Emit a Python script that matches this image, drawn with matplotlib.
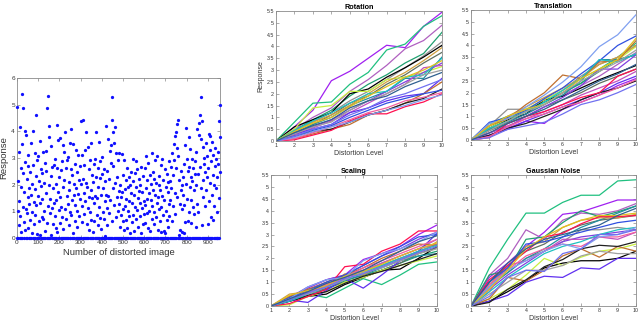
import numpy as np
import matplotlib
matplotlib.use("Agg")
import matplotlib.pyplot as plt
from matplotlib.ticker import FormatStrFormatter

plt.rcParams['font.family'] = ['Liberation Sans', 'DejaVu Sans']

# response of each distorted image (image index step 1.5)
response = [
    0, 4.92, 1.03, 0, 2.14, 0.47, 3.21, 1.38, 0, 4.18, 0.82, 2.63, 1.91, 0, 0.22, 5.41, 3.52, 0, 1.17, 2.44,
    4.88, 0.61, 0, 1.74, 2.86, 0.31, 4.02, 0, 1.09, 3.87, 2.23, 0.94, 0, 1.52, 3.13, 0.36, 2.71, 0, 1.88, 1.27,
    0.68, 0, 2.47, 3.58, 1.63, 0, 0.18, 2.03, 0.97, 4.01, 0, 2.74, 1.36, 0.53, 0, 3.17, 1.82, 0.86, 0, 2.31,
    4.61, 1.24, 0, 0.14, 2.92, 1.57, 0, 3.08, 0.63, 2.12, 0, 1.33, 3.62, 0.11, 0, 2.58, 1.94, 0.77, 0, 2.42,
    1.46, 0, 3.24, 0.72, 2.07, 0, 1.02, 2.81, 0.28, 0, 3.27, 1.69, 2.53, 0, 4.87, 0.58, 1.21, 0, 5.31, 3.79,
    1.98, 0, 4.21, 0.93, 1.48, 0, 0.12, 3.46, 2.33, 0, 1.13, 2.67, 0.52, 0, 1.87, 2.74, 0, 1.31, 2.98, 0.83,
    0, 2.02, 1.43, 0.39, 0, 2.61, 4.23, 0.21, 1.72, 0, 3.68, 1.04, 2.28, 0, 0.57, 3.76, 1.52, 0, 2.54, 1.18,
    0, 2.87, 0.79, 3.49, 0, 1.93, 0.33, 2.19, 0, 3.22, 1.08, 0, 3.98, 2.62, 0.71, 0, 1.58, 2.91, 0, 1.29,
    3.02, 0, 0.48, 2.11, 1.79, 0, 3.57, 0.98, 0, 2.59, 4.08, 0.88, 0, 1.42, 2.37, 0.19, 0, 3.51, 1.61, 2.04,
    0, 0.62, 2.78, 1.22, 0, 3.29, 1.89, 0.42, 0, 2.49, 1.01, 3.11, 0, 1.64, 2.18, 0, 0.81, 2.69, 1.47, 0,
    4.38, 2.01, 0, 1.19, 3.13, 0.59, 0, 2.21, 4.41, 1.68, 0, 0.91, 2.72, 0, 3.31, 1.39, 3.97, 0, 2.06, 0.51,
    1.92, 0, 3.42, 1.12, 0, 2.57, 0.29, 1.53, 0, 2.93, 0.99, 3.58, 0, 1.81, 0.69, 2.38, 0, 1.49, 0.24, 2.09,
    0, 1.32, 2.79, 0.63, 0, 2.98, 1.58, 2.27, 0, 3.99, 0.87, 1.51, 0, 2.62, 1.93, 0, 0.49, 3.61, 1.18, 0,
    2.24, 2.88, 0.76, 0, 1.63, 0.32, 2.41, 0, 3.03, 0.97, 1.87, 0, 2.58, 0.71, 0, 1.37, 2.13, 0.09, 0, 1.62,
    4.19, 0, 1.14, 2.52, 0.48, 0, 3.71, 1.57, 2.23, 0, 0.92, 3.28, 0, 1.41, 2.83, 3.47, 0, 0.64, 5.29, 4.42,
    0, 1.88, 3.98, 2.69, 0, 3.57, 1.23, 0, 4.17, 2.08, 0.79, 0, 3.19, 1.52, 0, 2.27, 1.03, 0, 2.91, 1.76,
    0, 1.28, 3.18, 0.41, 0, 1.97, 1.54, 0, 0.88, 3.16, 1.71, 0, 2.37, 0.62, 1.09, 0, 2.94, 0.31, 1.83, 0,
    1.21, 2.18, 0.68, 0, 1.48, 2.63, 0, 0.38, 1.91, 1.02, 0, 2.29, 0.82, 1.37, 0, 1.98, 0.19, 0, 1.68, 2.48,
    0.61, 0, 1.33, 2.12, 0, 2.96, 0.87, 1.62, 0, 0.28, 2.43, 1.18, 0, 2.87, 0.72, 1.93, 0, 1.04, 2.57, 0,
    0.42, 1.49, 2.21, 0, 1.78, 0.83, 0, 1.99, 1.31, 0.17, 0, 2.68, 1.12, 0, 1.73, 0.52, 2.32, 0, 1.38, 0.91,
    0, 2.61, 1.22, 0.58, 0, 3.09, 1.88, 0, 0.93, 2.19, 1.47, 0, 2.82, 0.39, 1.69, 0, 1.01, 2.38, 0, 0.27,
    1.42, 2.03, 0, 3.17, 0.71, 1.19, 0, 2.47, 1.79, 0, 0.53, 2.23, 0.98, 0, 2.91, 1.61, 0, 0.78, 2.08, 1.33,
    0, 3.08, 1.52, 0.31, 0, 2.32, 1.09, 1.98, 0, 0.62, 1.81, 0, 2.72, 1.17, 0.21, 0, 2.98, 1.59, 0, 0.88,
    2.19, 0.27, 0, 1.43, 2.58, 0, 0.18, 1.92, 1.03, 0, 2.41, 0.69, 0, 1.72, 2.09, 0.41, 0, 2.87, 1.28, 0.81,
    0, 2.12, 1.41, 0, 2.68, 1.88, 0.62, 0, 3.19, 2.38, 0, 1.21, 2.92, 3.52, 0, 1.68, 3.81, 0.89, 0, 3.99,
    2.61, 0, 4.27, 3.38, 1.52, 0, 4.42, 3.09, 0, 0.11, 2.19, 1.28, 0, 0.29, 2.52, 1.79, 0, 0.21, 1.99, 1.09,
    0, 1.61, 2.28, 0, 0.18, 2.79, 1.22, 0, 3.48, 0.59, 2.02, 0, 4.11, 1.48, 2.98, 0, 2.53, 0.63, 0, 3.79,
    0.98, 2.68, 0, 3.32, 1.91, 0, 2.27, 0.57, 1.41, 0, 2.97, 2.12, 0, 1.18, 2.62, 0, 1.79, 0.91, 2.39, 0,
    2.88, 0.42, 0, 1.97, 3.21, 1.29, 0, 4.09, 2.41, 0, 0.98, 3.88, 4.31, 0, 2.68, 4.62, 0, 5.29, 3.71, 1.88,
    0, 0.48, 4.39, 2.19, 0, 3.41, 1.52, 0, 2.78, 2.99, 0, 1.19, 2.49, 3.58, 0, 1.81, 2.28, 0, 3.09, 0.52,
    0, 2.61, 3.91, 1.38, 0, 3.29, 2.08, 0, 3.81, 0.79, 2.88, 0, 1.61, 3.59, 0, 2.38, 0.68, 3.11, 0, 1.98,
    1.21, 0, 3.38, 2.69, 0, 1.88, 2.98, 0, 2.29, 0.97, 0, 2.79, 3.21, 0, 1.51, 4.38, 0, 4.98, 2.48, 3.79,
]

levels = [1, 2, 3, 4, 5, 6, 7, 8, 9, 10]

line_colors = ['#a020f0', '#20c080', '#b060c0', '#20a070', '#909090', '#000000', '#607060',
               '#c8f040', '#2090a0', '#d0a040', '#8040e0', '#c050c0', '#6030f0', '#c07030',
               '#202020', '#ff1050', '#f060a0', '#3050e0', '#20c0c0', '#80a0f0', '#e0c020',
               '#a0a0a0', '#7070f0', '#306090']

rotation = [
    [0, 0.60, 1.30, 2.55, 2.95, 3.50, 4.05, 3.95, 4.85, 5.45],
    [0, 0.80, 1.60, 1.65, 2.40, 2.90, 3.85, 4.10, 4.85, 5.30],
    [0, 0.50, 1.00, 1.40, 2.10, 2.60, 3.20, 3.90, 4.25, 4.90],
    [0, 0.45, 0.90, 1.30, 1.90, 2.40, 2.80, 3.30, 3.70, 4.60],
    [0, 0.40, 0.80, 1.20, 1.70, 2.10, 2.60, 3.10, 3.60, 4.20],
    [0, 0.60, 0.90, 1.20, 2.00, 2.20, 2.70, 3.10, 3.55, 4.05],
    [0, 0.35, 0.70, 1.10, 1.60, 1.90, 2.40, 2.80, 3.30, 3.75],
    [0, 0.50, 1.40, 1.50, 2.10, 2.10, 2.60, 2.70, 2.90, 3.15],
    [0, 0.30, 0.70, 1.00, 1.50, 1.80, 2.10, 2.65, 2.65, 3.55],
    [0, 0.40, 0.80, 1.10, 1.50, 2.00, 2.50, 2.90, 3.40, 3.95],
    [0, 0.30, 0.60, 0.90, 1.30, 1.70, 2.10, 2.50, 2.90, 3.30],
    [0, 0.25, 0.55, 0.85, 1.20, 1.60, 2.00, 2.40, 3.10, 3.20],
    [0, 0.30, 0.50, 0.70, 1.20, 1.40, 1.70, 1.90, 2.00, 2.65],
    [0, 0.10, 0.30, 0.50, 0.70, 1.10, 1.30, 1.60, 2.00, 2.50],
    [0, 0.20, 0.40, 0.50, 0.80, 1.10, 1.30, 1.60, 1.80, 2.20],
    [0, 0.05, 0.25, 0.45, 0.85, 1.15, 1.15, 1.45, 1.65, 2.00],
    [0, 0.10, 0.35, 0.60, 0.90, 1.20, 1.40, 1.70, 1.85, 2.05],
    [0, 0.20, 0.45, 0.65, 1.00, 1.30, 1.60, 1.80, 2.00, 2.15],
    [0, 0.45, 0.85, 1.20, 1.60, 2.00, 2.10, 2.70, 2.80, 3.50],
    [0, 0.15, 0.40, 0.60, 0.80, 1.10, 1.30, 1.50, 1.75, 1.95],
    [0, 0.40, 0.75, 1.00, 1.45, 1.90, 2.30, 2.70, 3.00, 3.40],
    [0, 0.30, 0.60, 0.80, 1.30, 1.70, 2.00, 2.40, 2.80, 3.00],
    [0, 0.20, 0.50, 0.70, 1.10, 1.40, 1.80, 2.00, 2.30, 2.60],
    [0, 0.35, 0.65, 0.90, 1.40, 1.70, 1.90, 2.30, 2.60, 2.90],
]

translation = [
    [0, 0.20, 0.50, 0.80, 0.70, 1.30, 1.60, 1.90, 2.30, 2.60],
    [0, 0.70, 1.00, 1.30, 1.60, 2.00, 2.40, 3.00, 3.50, 4.10],
    [0, 0.40, 0.80, 1.10, 1.50, 1.90, 2.30, 2.70, 3.20, 3.70],
    [0, 0.50, 0.90, 1.20, 1.60, 2.00, 2.40, 2.90, 3.40, 3.60],
    [0, 0.60, 1.30, 1.30, 1.70, 2.10, 2.70, 3.20, 3.50, 4.00],
    [0, 0.50, 0.85, 1.10, 1.70, 1.85, 2.20, 2.55, 2.85, 3.15],
    [0, 0.40, 0.70, 1.00, 1.40, 1.70, 2.00, 2.40, 2.70, 3.00],
    [0, 0.50, 0.90, 1.30, 1.70, 2.10, 2.60, 3.00, 3.40, 3.95],
    [0, 0.45, 0.75, 1.10, 1.50, 1.90, 2.50, 3.40, 3.40, 3.60],
    [0, 0.60, 1.00, 1.40, 1.80, 2.20, 2.60, 3.20, 3.50, 4.00],
    [0, 0.30, 0.55, 1.00, 1.40, 1.80, 2.30, 3.00, 3.00, 3.60],
    [0, 0.30, 0.60, 0.90, 1.20, 1.50, 1.90, 2.20, 2.50, 2.90],
    [0, 0.20, 0.45, 0.80, 1.10, 1.40, 1.70, 2.00, 2.40, 2.70],
    [0, 0.60, 0.90, 1.50, 2.00, 2.75, 2.60, 3.30, 3.35, 4.20],
    [0, 0.20, 0.50, 0.70, 1.00, 1.30, 1.70, 2.00, 2.20, 2.50],
    [0, 0.10, 0.70, 1.00, 1.20, 1.50, 1.80, 2.00, 2.70, 3.00],
    [0, 0.15, 0.55, 0.90, 1.10, 1.40, 1.60, 1.90, 2.20, 2.55],
    [0, 0.75, 0.95, 1.25, 1.75, 2.20, 2.80, 3.35, 4.00, 4.40],
    [0, 0.50, 0.80, 1.20, 1.60, 2.10, 2.60, 3.40, 3.30, 3.65],
    [0, 0.70, 0.90, 1.40, 1.90, 2.45, 3.10, 3.95, 4.45, 5.30],
    [0, 0.60, 1.00, 1.30, 1.50, 2.00, 2.60, 3.00, 3.40, 4.30],
    [0, 0.40, 0.80, 1.20, 1.50, 2.00, 2.50, 2.90, 3.30, 3.80],
    [0, 0.10, 0.45, 0.60, 0.75, 1.10, 1.50, 1.70, 2.00, 2.35],
    [0, 0.30, 0.70, 1.00, 1.30, 1.70, 2.10, 2.50, 2.80, 3.20],
]

scaling = [
    [0, 0.30, 0.75, 1.10, 1.30, 1.95, 2.20, 2.50, 3.00, 3.40],
    [0, 0.35, 0.50, 0.35, 0.75, 1.15, 0.90, 1.30, 1.75, 1.85],
    [0, 0.30, 0.60, 0.90, 1.20, 1.40, 1.80, 2.10, 2.40, 2.80],
    [0, 0.25, 0.55, 0.70, 1.05, 1.30, 1.50, 1.80, 2.10, 2.30],
    [0, 0.40, 0.70, 0.90, 1.30, 1.50, 1.70, 2.00, 2.30, 2.60],
    [0, 0.20, 0.40, 0.50, 0.90, 1.20, 1.50, 1.55, 2.00, 2.50],
    [0, 0.30, 0.50, 0.75, 1.00, 1.20, 1.50, 1.80, 2.20, 2.45],
    [0, 0.05, 0.40, 0.60, 1.00, 1.20, 1.50, 1.70, 1.90, 2.10],
    [0, 0.25, 0.45, 0.70, 1.10, 1.30, 1.60, 1.90, 2.10, 2.20],
    [0, 0.50, 0.60, 0.80, 1.35, 1.30, 1.70, 2.00, 2.20, 2.70],
    [0, 0.35, 0.80, 1.10, 1.30, 1.70, 2.10, 2.40, 2.80, 3.10],
    [0, 0.30, 0.55, 0.85, 1.20, 1.50, 1.80, 2.10, 2.40, 2.60],
    [0, 0.25, 0.15, 0.65, 1.15, 0.75, 1.30, 1.90, 2.30, 3.05],
    [0, 0.40, 0.70, 1.00, 1.30, 1.60, 2.00, 2.30, 2.60, 2.55],
    [0, 0.20, 0.45, 0.60, 0.95, 1.25, 1.45, 1.70, 1.95, 2.20],
    [0, 0.10, 0.40, 0.70, 1.65, 1.75, 2.30, 2.60, 3.15, 3.15],
    [0, 0.30, 0.60, 0.90, 1.20, 1.60, 1.90, 2.20, 2.50, 2.80],
    [0, 0.35, 0.65, 1.00, 1.30, 1.70, 2.10, 2.50, 2.90, 3.00],
    [0, 0.20, 0.50, 0.80, 1.10, 1.40, 1.70, 2.00, 2.30, 2.55],
    [0, 0.30, 0.80, 1.10, 1.20, 1.90, 2.20, 2.40, 2.70, 3.10],
    [0, 0.45, 0.65, 0.85, 1.25, 1.45, 1.75, 2.10, 2.40, 2.65],
    [0, 0.30, 0.50, 0.80, 1.10, 1.40, 1.60, 1.90, 2.20, 2.40],
    [0, 0.25, 0.55, 0.80, 1.15, 1.35, 1.65, 1.95, 2.25, 2.50],
    [0, 0.30, 0.60, 0.95, 1.20, 1.50, 1.90, 2.30, 2.70, 2.95],
]

gaussian = [
    [0, 1.20, 1.80, 2.50, 3.10, 3.85, 3.95, 4.20, 4.45, 4.45],
    [0, 1.60, 2.80, 3.90, 3.90, 4.35, 4.65, 4.65, 5.25, 5.30],
    [0, 1.30, 2.00, 3.20, 2.80, 3.60, 3.90, 3.85, 4.00, 4.30],
    [0, 1.30, 1.50, 2.80, 2.90, 3.50, 4.00, 3.75, 3.95, 4.20],
    [0, 0.90, 1.40, 2.00, 2.30, 2.70, 3.20, 3.20, 3.30, 3.20],
    [0, 0.20, 0.60, 1.05, 1.60, 1.80, 1.90, 1.90, 2.00, 2.30],
    [0, 1.00, 1.70, 2.30, 2.60, 3.10, 3.40, 3.60, 3.70, 3.80],
    [0, 0.30, 0.70, 1.30, 2.00, 1.70, 2.05, 2.30, 2.40, 2.60],
    [0, 0.80, 1.40, 2.00, 2.40, 2.90, 3.30, 3.60, 3.90, 4.20],
    [0, 0.90, 1.60, 2.50, 2.70, 3.30, 3.60, 3.70, 3.70, 3.85],
    [0, 0.70, 1.30, 1.80, 2.30, 2.70, 2.90, 3.00, 3.10, 3.20],
    [0, 0.60, 1.70, 1.90, 2.30, 2.80, 2.80, 2.90, 2.80, 3.10],
    [0, 0.20, 0.45, 1.00, 1.25, 1.20, 1.60, 1.55, 2.00, 2.00],
    [0, 0.30, 1.20, 1.05, 1.50, 2.10, 2.40, 2.05, 2.50, 2.30],
    [0, 0.15, 0.70, 1.10, 1.65, 1.95, 2.40, 2.55, 2.50, 2.70],
    [0, 1.10, 1.70, 2.30, 2.90, 3.05, 3.45, 3.75, 3.75, 3.80],
    [0, 0.90, 1.50, 2.10, 2.40, 2.60, 2.50, 2.90, 2.90, 3.10],
    [0, 1.00, 1.60, 2.60, 2.70, 2.90, 3.10, 3.30, 3.50, 3.60],
    [0, 0.60, 1.20, 1.70, 2.20, 2.50, 2.70, 3.00, 3.20, 3.30],
    [0, 0.80, 1.50, 1.90, 2.30, 2.60, 2.40, 2.90, 3.00, 3.30],
    [0, 0.70, 1.50, 2.40, 2.90, 3.30, 3.60, 3.80, 3.80, 3.90],
    [0, 0.50, 1.00, 1.50, 1.50, 1.70, 2.10, 2.30, 2.20, 2.20],
    [0, 0.40, 1.20, 1.50, 1.45, 2.20, 2.40, 3.00, 3.00, 3.20],
    [0, 1.00, 1.80, 2.40, 2.80, 3.00, 3.20, 3.40, 3.80, 4.10],
]

W, H = 640, 323
fig = plt.figure(figsize=(W / 100, H / 100), dpi=100)


def px_axes(left, top, right, bottom):
    return fig.add_axes([left / W, 1 - bottom / H, (right - left) / W, (bottom - top) / H])


def style(ax, size):
    for s in ax.spines.values():
        s.set_color('#8a8a8a')
        s.set_linewidth(0.6)
    ax.tick_params(direction='in', length=2, width=0.5, color='#8a8a8a',
                   labelcolor='#333333', labelsize=size, top=True, right=True, pad=1.5)


# scatter
ax = px_axes(17, 78, 220, 238)
xs = np.arange(len(response)) * 1.5
ax.scatter(xs, response, s=5.5, color='#1010ff', linewidths=0, clip_on=False, zorder=3)
ax.set_xlim(0, 957)
ax.set_ylim(0, 6)
ax.set_xticks(range(0, 901, 100))
ax.set_yticks(range(0, 7))
style(ax, 4.6)
ax.set_xlabel('Number of distorted image', fontsize=6.8, color='#333333', labelpad=2)
ax.set_ylabel('Response', fontsize=6.8, color='#333333', labelpad=2)

panels = [
    ('Rotation', rotation, (276, 11, 442, 141), True),
    ('Translation', translation, (471, 10, 636, 140), False),
    ('Scaling', scaling, (271, 175, 437, 306), False),
    ('Gaussian Noise', gaussian, (471, 175, 636, 306), False),
]

for title, series, box, ylab in panels:
    ax = px_axes(*box)
    for i, vals in enumerate(series):
        ax.plot(levels, vals, color=line_colors[i % len(line_colors)], lw=0.9)
    ax.set_xlim(1, 10)
    ax.set_ylim(0, 5.5)
    ax.set_xticks(levels)
    ax.set_yticks(np.arange(0, 5.51, 0.5))
    ax.yaxis.set_major_formatter(FormatStrFormatter('%g'))
    style(ax, 3.8)
    ax.set_title(title, fontsize=5.2, fontweight='bold', pad=1.5)
    ax.set_xlabel('Distortion Level', fontsize=5, color='#333333', labelpad=1.5)
    if ylab:
        ax.set_ylabel('Response', fontsize=5, color='#333333', labelpad=1.5)

fig.savefig('out.png', dpi=100)
